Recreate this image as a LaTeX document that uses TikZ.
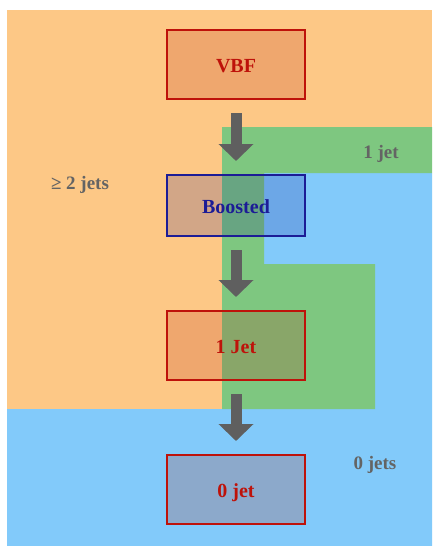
\documentclass[tikz,border=0pt]{standalone}
\usepackage{fontspec}
\setmainfont{Liberation Serif}
\usetikzlibrary{arrows.meta}
\definecolor{bgorange}{RGB}{253,200,134}
\definecolor{bggreen}{RGB}{126,199,128}
\definecolor{bgblue}{RGB}{130,202,250}
\definecolor{boxred}{RGB}{190,18,10}
\definecolor{boxfillred}{RGB}{184,38,15}
\definecolor{boxnavy}{RGB}{28,28,150}
\definecolor{boxfillnavy}{RGB}{0,0,140}
\definecolor{labelgray}{RGB}{100,100,100}
\definecolor{arrowgray}{RGB}{95,95,95}
\begin{document}
\begin{tikzpicture}[x=1pt,y=-1pt,
  box/.style={draw=boxred, line width=2pt, minimum width=138pt, minimum height=69pt,
    inner sep=0pt, outer sep=0pt, fill=boxfillred, fill opacity=0.2, text opacity=1,
    text=boxred, font=\fontsize{20}{24}\selectfont\bfseries, text height=16pt, text depth=0pt},
  bluebox/.style={box, draw=boxnavy, fill=boxfillnavy, fill opacity=0.17, text=boxnavy, minimum height=61pt},
  region/.style={text=labelgray, font=\fontsize{19}{22}\selectfont\bfseries, inner sep=0pt, anchor=base},
  bigarrow/.style={draw=arrowgray, line width=11pt, -{Triangle[width=34pt,length=17pt]},
    shorten <=14pt, shorten >=14pt}]
\useasboundingbox (0,0) rectangle (432,546);
% regions
\fill[bgorange] (7,10) rectangle (432,409);
\fill[bgblue] (264,173) -- (432,173) -- (432,546) -- (7,546) -- (7,409) -- (264,409) -- cycle;
\fill[bggreen] (222,127) -- (432,127) -- (432,173) -- (264,173) -- (264,264) -- (375,264) -- (375,409) -- (222,409) -- cycle;
% boxes
\node[box] (vbf) at (236,64.5) {VBF};
\node[bluebox] (boost) at (236,205.5) {Boosted};
\node[box] (onejet) at (236,345.5) {1 Jet};
\node[box] (zerojet) at (236,489.5) {0 jet};
% region labels
\node[region] (ge2) at (80,189) {≥ 2 jets};
\node[region] (r1) at (381,158) {1 jet};
\node[region] (r0) at (375,469) {0 jets};
% arrows
\draw[bigarrow] (vbf) -- (boost);
\draw[bigarrow] (boost) -- (onejet);
\draw[bigarrow] (onejet) -- (zerojet);
\end{tikzpicture}
\end{document}
